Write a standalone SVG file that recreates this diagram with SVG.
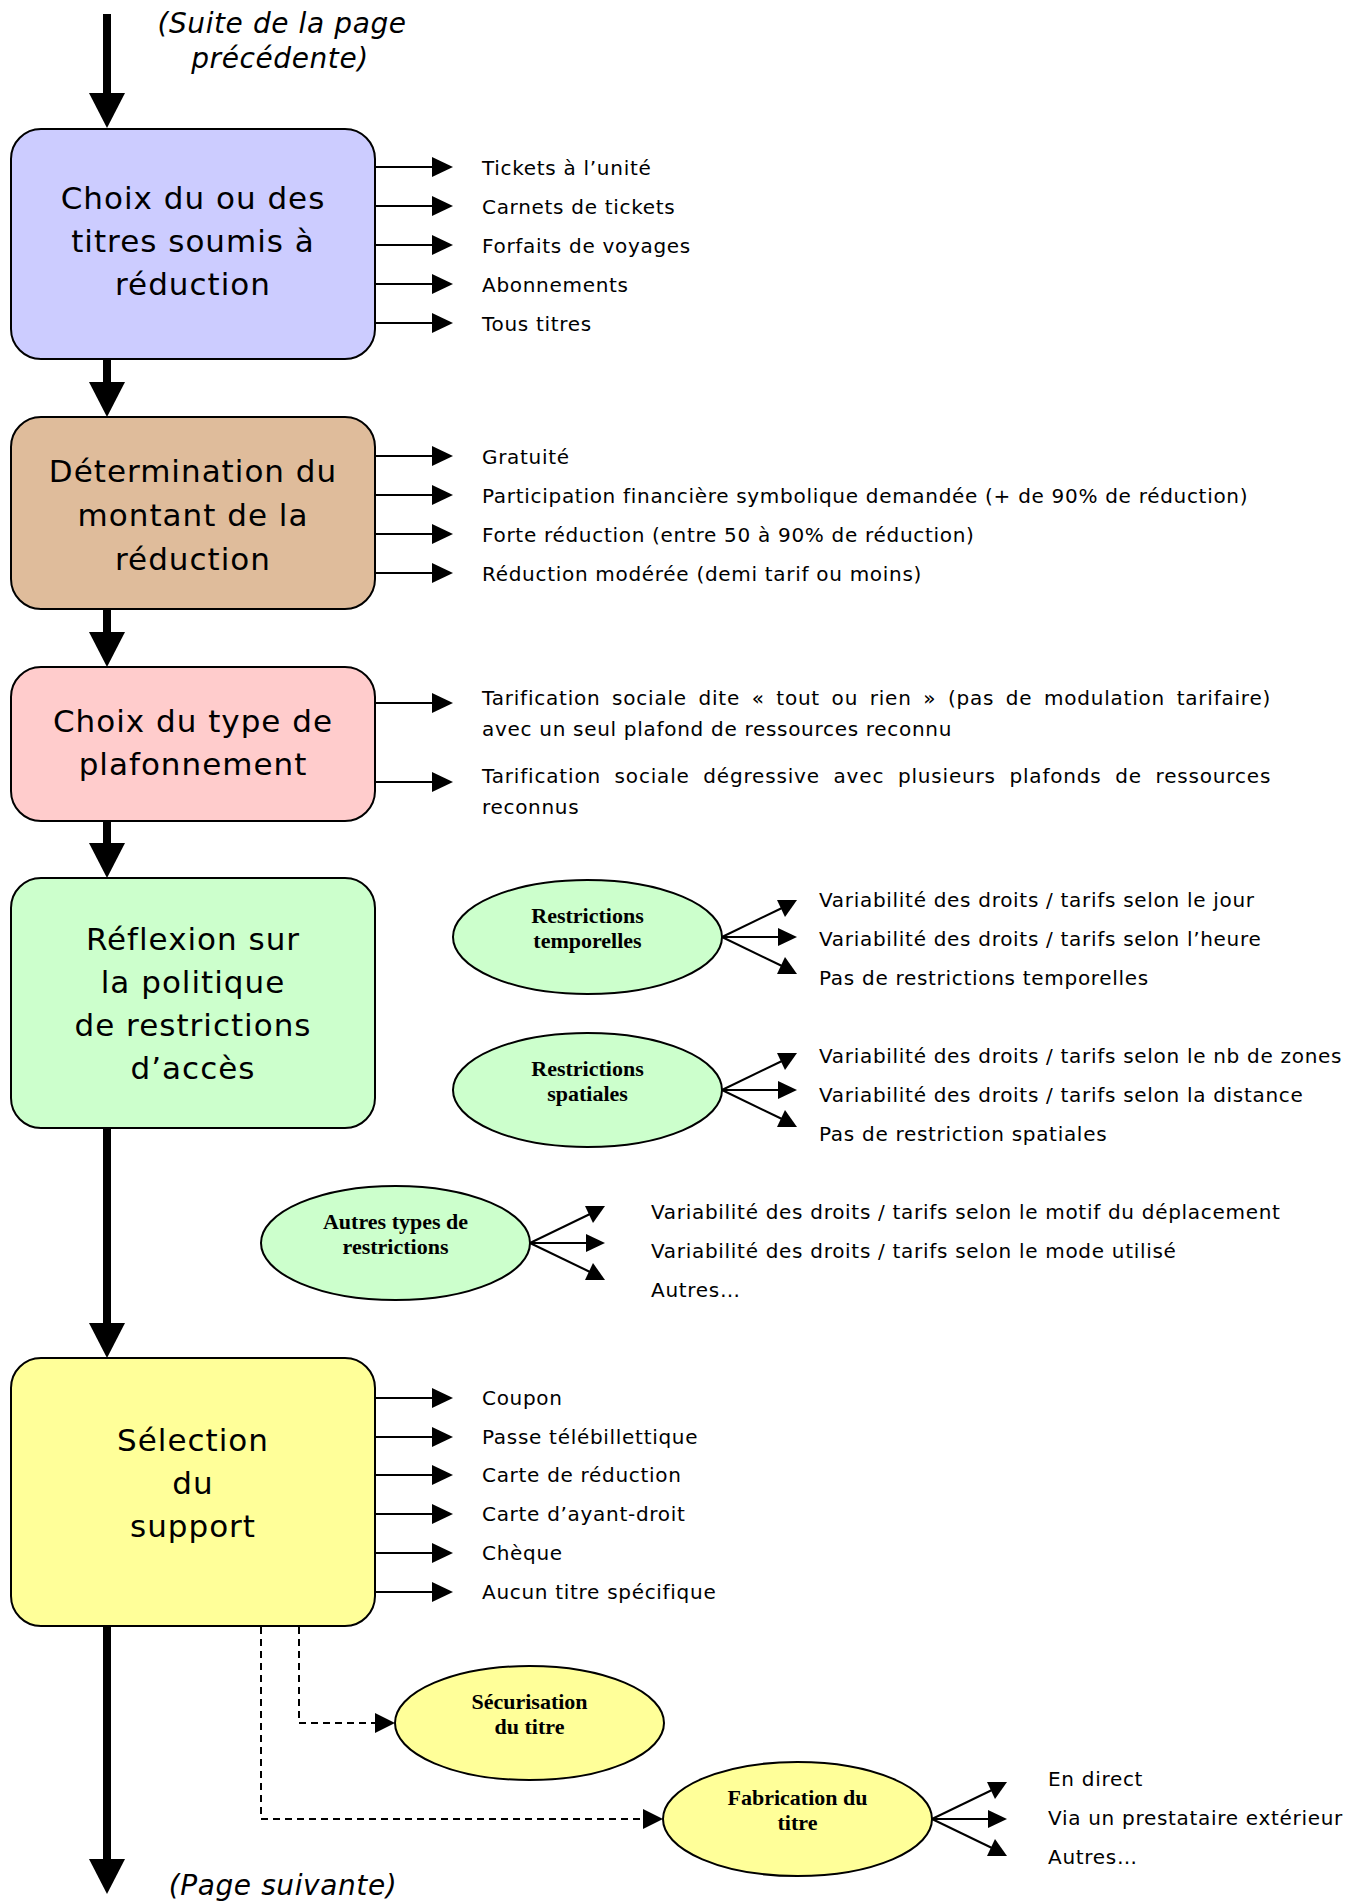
<svg xmlns="http://www.w3.org/2000/svg" width="1363" height="1901" viewBox="0 0 1363 1901">
<style>
.box{stroke:#000;stroke-width:2}
.ell{stroke:#000;stroke-width:2}
.title{font-family:"DejaVu Sans",Verdana,sans-serif;font-size:31px;letter-spacing:1px;text-anchor:middle;fill:#000}
.body{font-family:"DejaVu Sans",Verdana,sans-serif;font-size:20px;letter-spacing:0.7px;fill:#000}
.elab{font-family:"Liberation Serif","Times New Roman",serif;font-size:22px;font-weight:bold;text-anchor:middle;fill:#000}
.ital{font-family:"DejaVu Sans",Verdana,sans-serif;font-style:italic;font-size:28px;letter-spacing:0.6px;text-anchor:middle;fill:#000}
.main{stroke:#000;stroke-width:8;fill:none}
.thin{stroke:#000;stroke-width:2;fill:none}
.dash{stroke:#000;stroke-width:2;fill:none;stroke-dasharray:7 5}
.head{fill:#000}
</style>
<defs>
<marker id="ah" markerWidth="21" markerHeight="20" refX="8" refY="10" orient="auto" markerUnits="userSpaceOnUse"><path d="M0,0 L21,10 L0,20 z" fill="#000"/></marker>
</defs>
<rect width="1363" height="1901" fill="#fff"/>

<g id="connectors">
<!-- main flow -->
<line class="main" x1="107" y1="14" x2="107" y2="96"/>
<polygon class="head" points="89,93 125,93 107,128"/>
<line class="main" x1="107" y1="359" x2="107" y2="385"/>
<polygon class="head" points="89,382 125,382 107,417"/>
<line class="main" x1="107" y1="609" x2="107" y2="635"/>
<polygon class="head" points="89,632 125,632 107,667"/>
<line class="main" x1="107" y1="821" x2="107" y2="846"/>
<polygon class="head" points="89,843 125,843 107,878"/>
<line class="main" x1="107" y1="1128" x2="107" y2="1326"/>
<polygon class="head" points="89,1323 125,1323 107,1358"/>
<line class="main" x1="107" y1="1626" x2="107" y2="1862"/>
<polygon class="head" points="89,1859 125,1859 107,1894"/>

<!-- box 1 outputs -->
<line class="thin" x1="375" y1="167" x2="440" y2="167" marker-end="url(#ah)"/>
<line class="thin" x1="375" y1="206" x2="440" y2="206" marker-end="url(#ah)"/>
<line class="thin" x1="375" y1="245" x2="440" y2="245" marker-end="url(#ah)"/>
<line class="thin" x1="375" y1="284" x2="440" y2="284" marker-end="url(#ah)"/>
<line class="thin" x1="375" y1="323" x2="440" y2="323" marker-end="url(#ah)"/>
<!-- box 2 outputs -->
<line class="thin" x1="375" y1="456" x2="440" y2="456" marker-end="url(#ah)"/>
<line class="thin" x1="375" y1="495" x2="440" y2="495" marker-end="url(#ah)"/>
<line class="thin" x1="375" y1="534" x2="440" y2="534" marker-end="url(#ah)"/>
<line class="thin" x1="375" y1="573" x2="440" y2="573" marker-end="url(#ah)"/>
<!-- box 3 outputs -->
<line class="thin" x1="375" y1="703" x2="440" y2="703" marker-end="url(#ah)"/>
<line class="thin" x1="375" y1="782" x2="440" y2="782" marker-end="url(#ah)"/>
<!-- box 5 outputs -->
<line class="thin" x1="375" y1="1398" x2="440" y2="1398" marker-end="url(#ah)"/>
<line class="thin" x1="375" y1="1437" x2="440" y2="1437" marker-end="url(#ah)"/>
<line class="thin" x1="375" y1="1475" x2="440" y2="1475" marker-end="url(#ah)"/>
<line class="thin" x1="375" y1="1514" x2="440" y2="1514" marker-end="url(#ah)"/>
<line class="thin" x1="375" y1="1553" x2="440" y2="1553" marker-end="url(#ah)"/>
<line class="thin" x1="375" y1="1592" x2="440" y2="1592" marker-end="url(#ah)"/>

<!-- fan: restrictions temporelles -->
<g transform="translate(722,937)">
<line class="thin" x1="0" y1="0" x2="60" y2="-29"/>
<polygon class="head" points="55,-37 75,-37 63,-20"/>
<line class="thin" x1="0" y1="0" x2="60" y2="0"/>
<polygon class="head" points="56,-9 75,0 56,9"/>
<line class="thin" x1="0" y1="0" x2="60" y2="29"/>
<polygon class="head" points="63,20 55,37 75,37"/>
</g>
<!-- fan: restrictions spatiales -->
<g transform="translate(722,1090)">
<line class="thin" x1="0" y1="0" x2="60" y2="-29"/>
<polygon class="head" points="55,-37 75,-37 63,-20"/>
<line class="thin" x1="0" y1="0" x2="60" y2="0"/>
<polygon class="head" points="56,-9 75,0 56,9"/>
<line class="thin" x1="0" y1="0" x2="60" y2="29"/>
<polygon class="head" points="63,20 55,37 75,37"/>
</g>
<!-- fan: autres types -->
<g transform="translate(530,1243)">
<line class="thin" x1="0" y1="0" x2="60" y2="-29"/>
<polygon class="head" points="55,-37 75,-37 63,-20"/>
<line class="thin" x1="0" y1="0" x2="60" y2="0"/>
<polygon class="head" points="56,-9 75,0 56,9"/>
<line class="thin" x1="0" y1="0" x2="60" y2="29"/>
<polygon class="head" points="63,20 55,37 75,37"/>
</g>
<!-- fan: fabrication -->
<g transform="translate(932,1819)">
<line class="thin" x1="0" y1="0" x2="60" y2="-29"/>
<polygon class="head" points="55,-37 75,-37 63,-20"/>
<line class="thin" x1="0" y1="0" x2="60" y2="0"/>
<polygon class="head" points="56,-9 75,0 56,9"/>
<line class="thin" x1="0" y1="0" x2="60" y2="29"/>
<polygon class="head" points="63,20 55,37 75,37"/>
</g>

<!-- dashed -->
<polyline class="dash" points="299,1627 299,1723 377,1723"/>
<polygon class="head" points="375,1713 395,1723 375,1733"/>
<polyline class="dash" points="261,1627 261,1819 645,1819"/>
<polygon class="head" points="643,1809 663,1819 643,1829"/>
</g>

<text class="ital" x="282" y="33">(Suite de la page</text>
<text class="ital" x="280" y="68">précédente)</text>
<text class="ital" x="283" y="1895">(Page suivante)</text>

<g id="box1">
<rect class="box" x="11" y="129" width="364" height="230" rx="30" fill="#CCCCFF"/>
<text class="title" x="193" y="209">Choix du ou des</text>
<text class="title" x="193" y="252">titres soumis à</text>
<text class="title" x="193" y="295">réduction</text>
</g>
<g id="box1-items" class="body">
<text x="482" y="175">Tickets à l’unité</text>
<text x="482" y="214">Carnets de tickets</text>
<text x="482" y="253">Forfaits de voyages</text>
<text x="482" y="292">Abonnements</text>
<text x="482" y="331">Tous titres</text>
</g>

<g id="box2">
<rect class="box" x="11" y="417" width="364" height="192" rx="30" fill="#DFBC9B"/>
<text class="title" x="193" y="482">Détermination du</text>
<text class="title" x="193" y="526">montant de la</text>
<text class="title" x="193" y="570">réduction</text>
</g>
<g id="box2-items" class="body">
<text x="482" y="464">Gratuité</text>
<text x="482" y="503">Participation financière symbolique demandée (+ de 90% de réduction)</text>
<text x="482" y="542">Forte réduction (entre 50 à 90% de réduction)</text>
<text x="482" y="581">Réduction modérée (demi tarif ou moins)</text>
</g>

<g id="box3">
<rect class="box" x="11" y="667" width="364" height="154" rx="30" fill="#FFCCCC"/>
<text class="title" x="193" y="732">Choix du type de</text>
<text class="title" x="193" y="775">plafonnement</text>
</g>
<g id="box3-items" class="body">
<text x="482" y="705" word-spacing="4.5" textLength="789" lengthAdjust="spacing">Tarification sociale dite « tout ou rien » (pas de modulation tarifaire)</text>
<text x="482" y="736">avec un seul plafond de ressources reconnu</text>
<text x="482" y="783" word-spacing="6.5" textLength="789" lengthAdjust="spacing">Tarification sociale dégressive avec plusieurs plafonds de ressources</text>
<text x="482" y="814">reconnus</text>
</g>

<g id="box4">
<rect class="box" x="11" y="878" width="364" height="250" rx="30" fill="#CCFFCC"/>
<text class="title" x="193" y="950">Réflexion sur</text>
<text class="title" x="193" y="993">la politique</text>
<text class="title" x="193" y="1036">de restrictions</text>
<text class="title" x="193" y="1079">d’accès</text>
</g>

<g id="ell-temporelles">
<ellipse class="ell" cx="587.5" cy="937" rx="134.5" ry="57" fill="#CCFFCC"/>
<text class="elab" x="587.5" y="923">Restrictions</text>
<text class="elab" x="587.5" y="948">temporelles</text>
</g>
<g id="ell-temporelles-items" class="body">
<text x="819" y="907">Variabilité des droits / tarifs selon le jour</text>
<text x="819" y="946">Variabilité des droits / tarifs selon l’heure</text>
<text x="819" y="985">Pas de restrictions temporelles</text>
</g>

<g id="ell-spatiales">
<ellipse class="ell" cx="587.5" cy="1090" rx="134.5" ry="57" fill="#CCFFCC"/>
<text class="elab" x="587.5" y="1076">Restrictions</text>
<text class="elab" x="587.5" y="1101">spatiales</text>
</g>
<g id="ell-spatiales-items" class="body">
<text x="819" y="1063">Variabilité des droits / tarifs selon le nb de zones</text>
<text x="819" y="1102">Variabilité des droits / tarifs selon la distance</text>
<text x="819" y="1141">Pas de restriction spatiales</text>
</g>

<g id="ell-autres">
<ellipse class="ell" cx="395.5" cy="1243" rx="134.5" ry="57" fill="#CCFFCC"/>
<text class="elab" x="395.5" y="1229">Autres types de</text>
<text class="elab" x="395.5" y="1254">restrictions</text>
</g>
<g id="ell-autres-items" class="body">
<text x="651" y="1219">Variabilité des droits / tarifs selon le motif du déplacement</text>
<text x="651" y="1258">Variabilité des droits / tarifs selon le mode utilisé</text>
<text x="651" y="1297">Autres…</text>
</g>

<g id="box5">
<rect class="box" x="11" y="1358" width="364" height="268" rx="30" fill="#FFFF99"/>
<text class="title" x="193" y="1451">Sélection</text>
<text class="title" x="193" y="1494">du</text>
<text class="title" x="193" y="1537">support</text>
</g>
<g id="box5-items" class="body">
<text x="482" y="1405">Coupon</text>
<text x="482" y="1444">Passe télébillettique</text>
<text x="482" y="1482">Carte de réduction</text>
<text x="482" y="1521">Carte d’ayant-droit</text>
<text x="482" y="1560">Chèque</text>
<text x="482" y="1599">Aucun titre spécifique</text>
</g>

<g id="ell-securisation">
<ellipse class="ell" cx="529.5" cy="1723" rx="134.5" ry="57" fill="#FFFF99"/>
<text class="elab" x="529.5" y="1709">Sécurisation</text>
<text class="elab" x="529.5" y="1734">du titre</text>
</g>

<g id="ell-fabrication">
<ellipse class="ell" cx="797.5" cy="1819" rx="134.5" ry="57" fill="#FFFF99"/>
<text class="elab" x="797.5" y="1805">Fabrication du</text>
<text class="elab" x="797.5" y="1830">titre</text>
</g>
<g id="ell-fabrication-items" class="body">
<text x="1048" y="1786">En direct</text>
<text x="1048" y="1825">Via un prestataire extérieur</text>
<text x="1048" y="1864">Autres…</text>
</g>
</svg>
